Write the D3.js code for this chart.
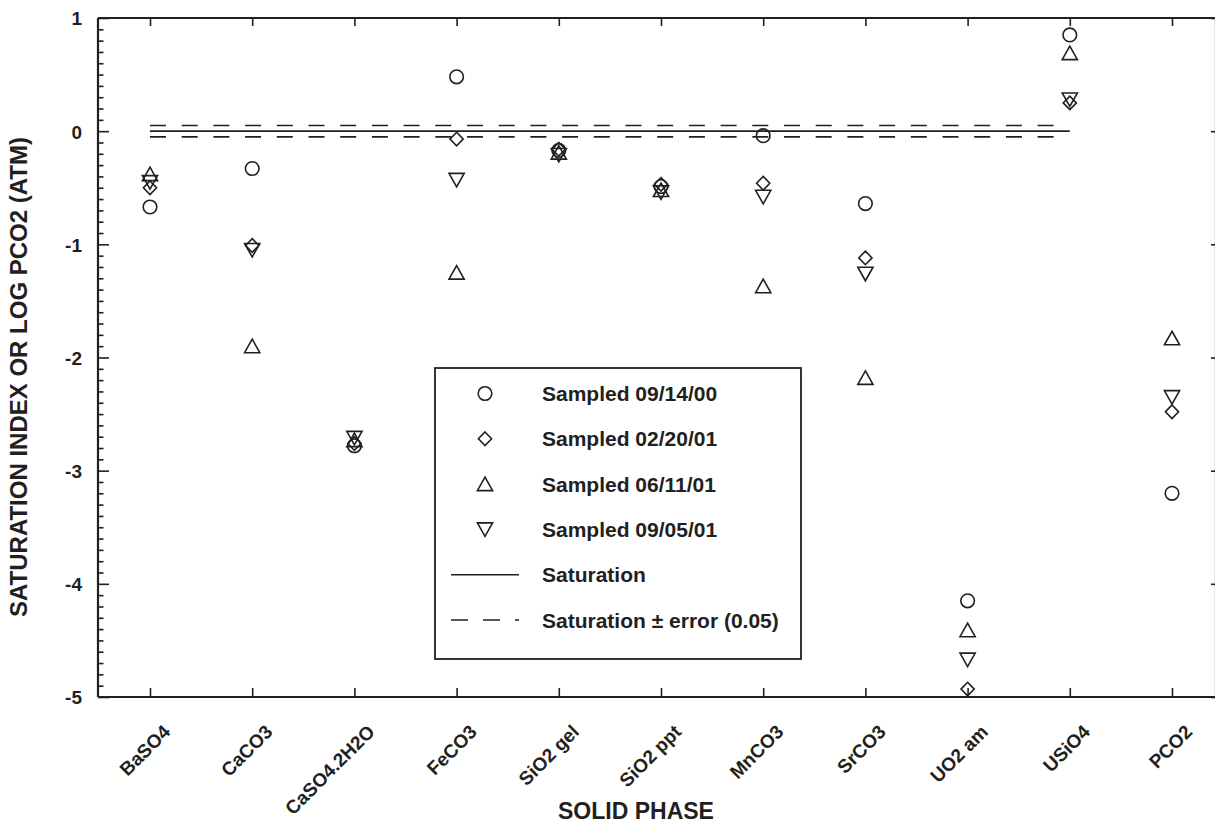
<html lang="en">
<head>
    <meta charset="UTF-8">
    <title>Saturation index by solid phase</title>
    <script src="https://d3js.org/d3.v7.min.js"></script>
    <style>
        body { margin: 0; background: #fff; }
        svg text { font-family: "Liberation Sans", Arial, Helvetica, sans-serif; font-weight: bold; fill: #231f20; }
    </style>
</head>
<body>
    <script>
        // Chart data
        const phases = ["BaSO4", "CaCO3", "CaSO4.2H2O", "FeCO3", "SiO2 gel", "SiO2 ppt", "MnCO3", "SrCO3", "UO2 am", "USiO4", "PCO2"];
        const sampled091400 = [-0.67, -0.33, -2.78, 0.48, -0.17, -0.49, -0.04, -0.64, -4.15, 0.85, -3.20];
        const sampled022001 = [-0.50, -1.01, -2.76, -0.07, -0.16, -0.47, -0.46, -1.12, -4.93, 0.25, -2.48];
        const sampled061101 = [-0.38, -1.90, -2.73, -1.25, -0.19, -0.52, -1.37, -2.18, -4.41, 0.69, -1.83];
        const sampled090501 = [-0.45, -1.05, -2.71, -0.43, -0.21, -0.54, -0.58, -1.26, -4.67, 0.28, -2.35];
        const seriesLabels = ["Sampled 09/14/00", "Sampled 02/20/01", "Sampled 06/11/01", "Sampled 09/05/01"];
        const yTicks = [1, 0, -1, -2, -3, -4, -5];
        const saturation = 0;
        const satError = 0.05;

        // SVG dimensions
        const w = 1215;
        const h = 826;
        const ink = "#231f20";
        const plotLeft = 98, plotRight = 1216, plotTop = 18, plotBottom = 697;

        const svg = d3.select("body")
            .append("svg")
            .attr("width", w)
            .attr("height", h);

        // Scales
        const xScale = d3.scalePoint()
            .domain(phases)
            .range([150, 1172]);

        const yScale = d3.scaleLinear()
            .domain([-5, 1])
            .range([plotBottom, plotTop]);

        // Marker shapes
        const shapes = {
            circle: "M6.8,0A6.8,6.8 0 1,1 -6.8,0A6.8,6.8 0 1,1 6.8,0Z",
            diamond: "M0,-6.8L6.6,0L0,6.8L-6.6,0Z",
            up: "M0,-7L7.6,6.5L-7.6,6.5Z",
            down: "M0,7L7.6,-6.5L-7.6,-6.5Z"
        };
        const series = [
            { label: seriesLabels[0], values: sampled091400, shape: "circle" },
            { label: seriesLabels[1], values: sampled022001, shape: "diamond" },
            { label: seriesLabels[2], values: sampled061101, shape: "up" },
            { label: seriesLabels[3], values: sampled090501, shape: "down" }
        ];

        // Left axis: major and minor ticks pointing inward
        const minorTicks = d3.range(-50, 11).map(d => d / 10).filter(d => Math.abs(d - Math.round(d)) > 1e-6);
        svg.append("g")
            .attr("transform", `translate(${plotLeft},0)`)
            .call(d3.axisLeft(yScale).tickValues(minorTicks).tickSize(-5.5).tickFormat(""))
            .call(g => g.select(".domain").remove());

        const yAxis = svg.append("g")
            .attr("transform", `translate(${plotLeft},0)`)
            .call(d3.axisLeft(yScale).tickValues(yTicks).tickSize(-11).tickPadding(16).tickFormat(d => String(d)));
        yAxis.select(".domain").remove();
        yAxis.selectAll("text")
            .style("font-size", "19px")
            .attr("dy", "0.36em")
            .attr("font-family", null);

        // Right axis ticks
        svg.append("g")
            .attr("transform", `translate(${plotRight},0)`)
            .call(d3.axisRight(yScale).tickValues(yTicks).tickSize(-5).tickFormat(""))
            .call(g => g.select(".domain").remove());

        // Top axis ticks
        svg.append("g")
            .attr("transform", `translate(0,${plotTop})`)
            .call(d3.axisTop(xScale).tickSize(-8).tickFormat(""))
            .call(g => g.select(".domain").remove());

        // Bottom axis ticks and rotated labels
        const xAxis = svg.append("g")
            .attr("transform", `translate(0,${plotBottom})`)
            .call(d3.axisBottom(xScale).tickSize(-9));
        xAxis.select(".domain").remove();
        xAxis.selectAll("text")
            .attr("x", 0)
            .attr("y", 0)
            .attr("dy", null)
            .attr("text-anchor", "end")
            .attr("transform", "translate(21,36) rotate(-45)")
            .attr("font-family", null)
            .style("font-size", "19px");

        svg.selectAll(".tick line")
            .attr("stroke", ink)
            .attr("stroke-width", 1.6);

        // Frame
        svg.append("path")
            .attr("d", `M${plotLeft},${plotTop}H${plotRight}M${plotLeft},${plotBottom}H${plotRight}M${plotLeft},${plotTop}V${plotBottom}M${plotRight},${plotTop}V${plotBottom}`)
            .attr("fill", "none")
            .attr("stroke", ink)
            .attr("stroke-width", 2.2);

        // Saturation lines
        const x0 = xScale("BaSO4");
        const x1 = xScale("USiO4");
        svg.append("line")
            .attr("x1", x0).attr("x2", x1)
            .attr("y1", yScale(saturation)).attr("y2", yScale(saturation))
            .attr("stroke", ink)
            .attr("stroke-width", 1.6);
        [satError, -satError].forEach(e => {
            svg.append("line")
                .attr("x1", x0).attr("x2", x1 - 6)
                .attr("y1", yScale(saturation + e)).attr("y2", yScale(saturation + e))
                .attr("stroke", ink)
                .attr("stroke-width", 1.6)
                .attr("stroke-dasharray", "16,15.7");
        });

        // Data points
        series.forEach(s => {
            svg.append("g")
                .selectAll("path")
                .data(s.values)
                .enter()
                .append("path")
                .attr("d", shapes[s.shape])
                .attr("transform", (d, i) => `translate(${xScale(phases[i])},${yScale(d)})`)
                .attr("fill", "none")
                .attr("stroke", ink)
                .attr("stroke-width", 1.6);
        });

        // Legend
        const legend = svg.append("g").attr("id", "legend");
        legend.append("rect")
            .attr("x", 435)
            .attr("y", 368)
            .attr("width", 366)
            .attr("height", 291)
            .attr("fill", "#fff")
            .attr("stroke", ink)
            .attr("stroke-width", 1.8);

        const rowY = i => 393.5 + i * 45.3;
        series.forEach((s, i) => {
            legend.append("path")
                .attr("d", shapes[s.shape])
                .attr("transform", `translate(485,${rowY(i)})`)
                .attr("fill", "none")
                .attr("stroke", ink)
                .attr("stroke-width", 1.6);
            legend.append("text")
                .attr("x", 542)
                .attr("y", rowY(i))
                .attr("dy", "0.36em")
                .style("font-size", "21px")
                .text(s.label);
        });

        legend.append("line")
            .attr("x1", 451).attr("x2", 519)
            .attr("y1", rowY(4)).attr("y2", rowY(4))
            .attr("stroke", ink).attr("stroke-width", 1.6);
        legend.append("text")
            .attr("x", 542).attr("y", rowY(4)).attr("dy", "0.36em")
            .style("font-size", "21px")
            .text("Saturation");

        legend.append("line")
            .attr("x1", 451).attr("x2", 519)
            .attr("y1", rowY(5)).attr("y2", rowY(5))
            .attr("stroke", ink).attr("stroke-width", 1.6)
            .attr("stroke-dasharray", "17,15");
        legend.append("text")
            .attr("x", 542).attr("y", rowY(5)).attr("dy", "0.36em")
            .style("font-size", "21px")
            .text("Saturation \u00B1 error (0.05)");

        // Axis titles
        svg.append("text")
            .attr("x", 636)
            .attr("y", 819)
            .attr("text-anchor", "middle")
            .style("font-size", "23px")
            .text("SOLID PHASE");

        svg.append("text")
            .attr("transform", "translate(27,377) rotate(-90)")
            .attr("text-anchor", "middle")
            .style("font-size", "24px")
            .text("SATURATION INDEX OR LOG PCO2 (ATM)");
    </script>
</body>
</html>
